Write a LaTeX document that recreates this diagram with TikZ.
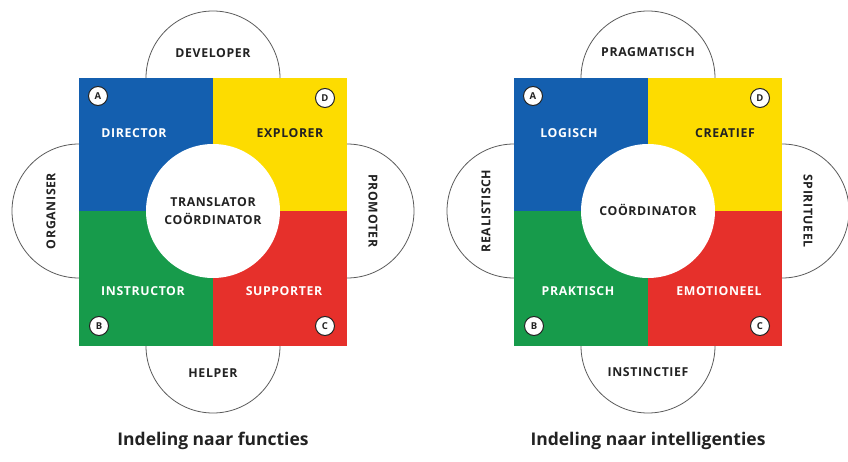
\documentclass[tikz,border=0pt]{standalone}
\usepackage{fontspec}
\setmainfont{Open Sans}
\newfontfamily\labfont[LetterSpace=5]{Open Sans}
\definecolor{qblue}{HTML}{145FAF}
\definecolor{qyellow}{HTML}{FDDC00}
\definecolor{qgreen}{HTML}{179B4B}
\definecolor{qred}{HTML}{E6302B}
\definecolor{qline}{HTML}{5A5A5A}
\definecolor{qdark}{HTML}{222222}
\tikzset{
  lobe/.style={circle, draw=qline, line width=0.8pt, fill=white, minimum size=134pt, inner sep=0pt},
  core/.style={circle, fill=white, minimum size=134pt, inner sep=0pt},
  badge/.style={circle, draw=qdark, line width=1pt, fill=white, minimum size=19pt, inner sep=0pt, font=\bfseries\fontsize{9.5}{9.5}\selectfont, text=qdark},
  lab/.style={font=\labfont\bfseries\fontsize{12.3}{18}\selectfont, inner sep=0pt, align=center},
  caption/.style={font=\bfseries\fontsize{17.5}{18}\selectfont, text=qdark, inner sep=0pt}
}
\begin{document}
\begin{tikzpicture}[x=1pt,y=-1pt]
\useasboundingbox (0,0) rectangle (848,462);
% ---------- left diagram ----------
\node[lobe] (Ltop) at (213,78) {};
\node[lobe] (Lbot) at (213,346) {};
\node[lobe] (Lleft) at (79,211) {};
\node[lobe] (Lright) at (347,211) {};
\fill[qblue] (79,78) rectangle (213,211);
\fill[qyellow] (213,78) rectangle (347,211);
\fill[qgreen] (79,211) rectangle (213,346);
\fill[qred] (213,211) rectangle (347,346);
\node[core] (Lcore) at (213,211) {};
\node[lab, text=qdark] (Ltopt) at (213,53) {DEVELOPER};
\node[lab, text=qdark] (Lbott) at (213,373) {HELPER};
\node[lab, text=qdark, rotate=90] (Lleftt) at (51,211) {ORGANISER};
\node[lab, text=qdark, rotate=-90] (Lrightt) at (373,211) {PROMOTER};
\node[lab, text=white] (Lq1) at (134,133) {DIRECTOR};
\node[lab, text=qdark] (Lq2) at (290,133) {EXPLORER};
\node[lab, text=white] (Lq3) at (143,291) {INSTRUCTOR};
\node[lab, text=white] (Lq4) at (284,291) {SUPPORTER};
\node[lab, text=qdark] (Lcoret) at (213,211) {TRANSLATOR\\COÖRDINATOR};
\node[badge] (LA) at (98,96) {A};
\node[badge] (LD) at (325,98) {D};
\node[badge] (LB) at (99,326) {B};
\node[badge] (LC) at (325,326) {C};
\node[caption] (Lcap) at (213,441) {Indeling naar functies};
% ---------- right diagram ----------
\begin{scope}[shift={(435,0)}]
\node[lobe] (Rtop) at (213,78) {};
\node[lobe] (Rbot) at (213,346) {};
\node[lobe] (Rleft) at (79,211) {};
\node[lobe] (Rright) at (347,211) {};
\fill[qblue] (79,78) rectangle (213,211);
\fill[qyellow] (213,78) rectangle (347,211);
\fill[qgreen] (79,211) rectangle (213,346);
\fill[qred] (213,211) rectangle (347,346);
\node[core] (Rcore) at (213,211) {};
\node[lab, text=qdark] (Rtopt) at (213,52) {PRAGMATISCH};
\node[lab, text=qdark] (Rbott) at (213,372) {INSTINCTIEF};
\node[lab, text=qdark, rotate=90] (Rleftt) at (51,211) {REALISTISCH};
\node[lab, text=qdark, rotate=-90] (Rrightt) at (373,211) {SPIRITUEEL};
\node[lab, text=white] (Rq1) at (134,133) {LOGISCH};
\node[lab, text=qdark] (Rq2) at (290,133) {CREATIEF};
\node[lab, text=white] (Rq3) at (143,291) {PRAKTISCH};
\node[lab, text=white] (Rq4) at (284,291) {EMOTIONEEL};
\node[lab, text=qdark] (Rcoret) at (213,210) {COÖRDINATOR};
\node[badge] (RA) at (98,96) {A};
\node[badge] (RD) at (325,98) {D};
\node[badge] (RB) at (99,326) {B};
\node[badge] (RC) at (325,326) {C};
\node[caption] (Rcap) at (213,441) {Indeling naar intelligenties};
\end{scope}
\end{tikzpicture}
\end{document}
